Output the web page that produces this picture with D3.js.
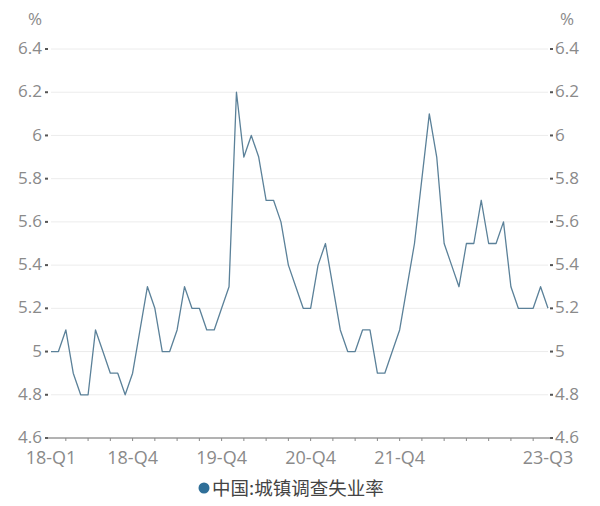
<!DOCTYPE html>
<meta charset="utf-8">
<style>
    body { margin: 0; background: #fff; }
    text { font-family: "Open Sans", "Noto Sans CJK SC", sans-serif; }
    .grid line { stroke: #ececec; stroke-width: 1; }
    .tick-label { fill: #8a8a8a; font-size: 17px; }
    .x-label { fill: #8a8a8a; font-size: 18px; }
</style>
<body>
<svg></svg>
</body>
<script src="https://d3js.org/d3.v7.min.js"></script>
<script>
    // monthly, 2018-01 .. 2023-08
    var months = d3.range(68).map(function (i) {
        return new Date(2018, i, 1);
    });
    var rate = [
        5.0, 5.0, 5.1, 4.9, 4.8, 4.8, 5.1, 5.0, 4.9, 4.9, 4.8, 4.9,
        5.1, 5.3, 5.2, 5.0, 5.0, 5.1, 5.3, 5.2, 5.2, 5.1, 5.1, 5.2,
        5.3, 6.2, 5.9, 6.0, 5.9, 5.7, 5.7, 5.6, 5.4, 5.3, 5.2, 5.2,
        5.4, 5.5, 5.3, 5.1, 5.0, 5.0, 5.1, 5.1, 4.9, 4.9, 5.0, 5.1,
        5.3, 5.5, 5.8, 6.1, 5.9, 5.5, 5.4, 5.3, 5.5, 5.5, 5.7, 5.5,
        5.5, 5.6, 5.3, 5.2, 5.2, 5.2, 5.3, 5.2
    ];
    var yTicks = [4.6, 4.8, 5, 5.2, 5.4, 5.6, 5.8, 6, 6.2, 6.4];
    var xLabelIdx = [0, 11, 23, 35, 47, 67];
    var xLabels = ["18-Q1", "18-Q4", "19-Q4", "20-Q4", "21-Q4", "23-Q3"];
    var seriesName = "中国:城镇调查失业率";

    var width = 600, height = 506;
    var margin = {top: 49, right: 52, bottom: 68, left: 51};

    var svg = d3.select("svg")
        .attr("width", width)
        .attr("height", height);

    var x = d3.scaleLinear()
        .domain([0, months.length - 1])
        .range([margin.left, width - margin.right]);

    var y = d3.scaleLinear()
        .domain([4.6, 6.4])
        .range([height - margin.bottom, margin.top]);

    // grid
    svg.append("g")
        .attr("class", "grid")
        .selectAll("line")
        .data(yTicks.slice(1))
        .enter().append("line")
        .attr("x1", margin.left)
        .attr("x2", width - margin.right)
        .attr("y1", function (d) { return y(d); })
        .attr("y2", function (d) { return y(d); });

    // left / right tick labels
    var fmt = function (d) { return String(+d.toFixed(1)); };
    svg.append("g").selectAll("text")
        .data(yTicks)
        .enter().append("text")
        .attr("class", "tick-label")
        .attr("x", margin.left - 9)
        .attr("y", function (d) { return y(d); })
        .attr("dy", "0.3em")
        .attr("text-anchor", "end")
        .text(fmt);
    svg.append("g").selectAll("text")
        .data(yTicks)
        .enter().append("text")
        .attr("class", "tick-label")
        .attr("x", width - margin.right + 7)
        .attr("y", function (d) { return y(d); })
        .attr("dy", "0.3em")
        .text(fmt);

    // little dot ticks
    [margin.left - 6, width - margin.right + 2].forEach(function (px) {
        svg.append("g").selectAll("rect")
            .data(yTicks)
            .enter().append("rect")
            .attr("x", px)
            .attr("y", function (d) { return y(d) - 1; })
            .attr("width", 3)
            .attr("height", 2)
            .attr("fill", "#555");
    });

    svg.append("text").attr("class", "tick-label")
        .attr("x", 35).attr("y", 25).attr("text-anchor", "middle").text("%");
    svg.append("text").attr("class", "tick-label")
        .attr("x", 567).attr("y", 25).attr("text-anchor", "middle").text("%");

    // bottom axis
    var y0 = y(4.6);
    svg.append("line")
        .attr("x1", margin.left - 6).attr("x2", width - margin.right + 3)
        .attr("y1", y0).attr("y2", y0)
        .attr("stroke", "#666").attr("stroke-width", 1);

    svg.append("g").selectAll("line")
        .data(d3.range(2, months.length, 3))
        .enter().append("line")
        .attr("x1", function (d) { return x(d); })
        .attr("x2", function (d) { return x(d); })
        .attr("y1", y0).attr("y2", y0 + 3)
        .attr("stroke", "#888");

    svg.append("g").selectAll("text")
        .data(xLabelIdx)
        .enter().append("text")
        .attr("class", "x-label")
        .attr("x", function (d) { return x(d); })
        .attr("y", y0 + 26)
        .attr("text-anchor", "middle")
        .text(function (d, i) { return xLabels[i]; });

    // series
    var line = d3.line()
        .x(function (d, i) { return x(i); })
        .y(function (d) { return y(d); });

    svg.append("path")
        .datum(rate)
        .attr("fill", "none")
        .attr("stroke", "#5b8199")
        .attr("stroke-width", 1.3)
        .attr("stroke-linejoin", "round")
        .attr("d", line);

    // legend
    svg.append("circle")
        .attr("cx", 204).attr("cy", 488).attr("r", 5.5)
        .attr("fill", "#2f6f98");
    svg.append("text")
        .attr("x", 212).attr("y", 495)
        .attr("fill", "#444")
        .style("font-family", "'Noto Sans CJK SC', sans-serif")
        .style("font-size", "18.5px")
        .text(seriesName);
</script>
</html>
